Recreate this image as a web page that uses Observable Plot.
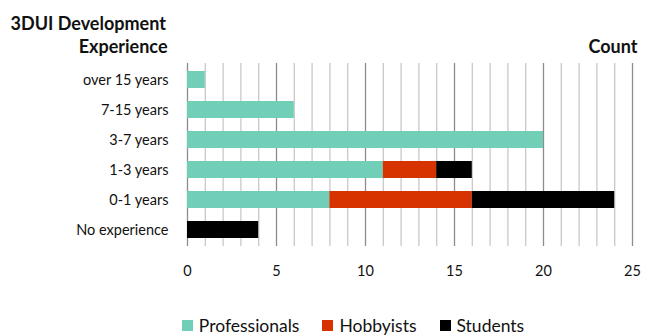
<!DOCTYPE html>
<html>
<head>
<meta charset="utf-8">
<script src="https://cdn.jsdelivr.net/npm/d3@7"></script>
<script src="https://cdn.jsdelivr.net/npm/@observablehq/plot@0.6"></script>
<style>
  html, body { margin: 0; padding: 0; background: #fff; }
  body { width: 654px; height: 336px; overflow: hidden; font-family: Lato, "Open Sans", sans-serif; }
  #chart svg { display: block; }
  #legend { display: flex; justify-content: center; gap: 23px; font-size: 17.5px; color: #111; margin-top: 25px; padding-left: 52px; }
  #legend .item { display: flex; align-items: center; gap: 6px; }
  #legend .sw { width: 11px; height: 11px; display: inline-block; }
</style>
</head>
<body>
<div id="chart"></div>
<div id="legend"></div>
<script>
// Experience groups, top to bottom
const categories = ["over 15 years", "7-15 years", "3-7 years", "1-3 years", "0-1 years", "No experience"];
const series = ["Professionals", "Hobbyists", "Students"];
const colors = ["#72cfb7", "#d63300", "#000000"];
// Counts per group, in category order
const professionals = [1, 6, 20, 11, 8, 0];
const hobbyists = [0, 0, 0, 3, 8, 0];
const students = [0, 0, 0, 2, 8, 4];
const xTicks = [0, 5, 10, 15, 20, 25];

const values = [professionals, hobbyists, students];
const data = [];
series.forEach((s, i) => categories.forEach((c, j) => {
  if (values[i][j] > 0) data.push({group: c, series: s, count: values[i][j]});
}));

const chart = Plot.plot({
  width: 654,
  height: 290,
  marginTop: 63,
  marginBottom: 44,
  marginLeft: 187,
  marginRight: 22,
  style: {fontFamily: "Lato, 'Open Sans', sans-serif", fontSize: "14.5px", color: "#111"},
  x: {domain: [0, 25], ticks: xTicks, tickSize: 0, tickPadding: 19, label: null},
  y: {domain: categories, paddingInner: 0.45, paddingOuter: 0.225, tickSize: 0, tickPadding: 19, label: null},
  color: {domain: series, range: colors},
  marks: [
    Plot.ruleX(d3.range(0, 26).filter(v => v % 5 !== 0), {stroke: "#c9c9c9", strokeWidth: 1.3}),
    Plot.ruleX(xTicks, {stroke: "#8c8c8c", strokeWidth: 1.3}),
    Plot.barX(data, Plot.stackX({x: "count", y: "group", fill: "series", order: series})),
    Plot.text(["3DUI Development"], {frameAnchor: "top-left", dx: -177, dy: -46, fontWeight: "bold", textAnchor: "start", fontSize: 18}),
    Plot.text(["Experience"], {frameAnchor: "top-left", dx: -20, dy: -23, fontWeight: "bold", textAnchor: "end", fontSize: 18}),
    Plot.text(["Count"], {frameAnchor: "top-right", dx: 5, dy: -23, fontWeight: "bold", textAnchor: "end", fontSize: 18})
  ]
});
document.getElementById("chart").appendChild(chart);

const legend = document.getElementById("legend");
series.forEach((s, i) => {
  const item = document.createElement("span");
  item.className = "item";
  item.innerHTML = `<span class="sw" style="background:${colors[i]}"></span><span>${s}</span>`;
  legend.appendChild(item);
});
</script>
</body>
</html>
